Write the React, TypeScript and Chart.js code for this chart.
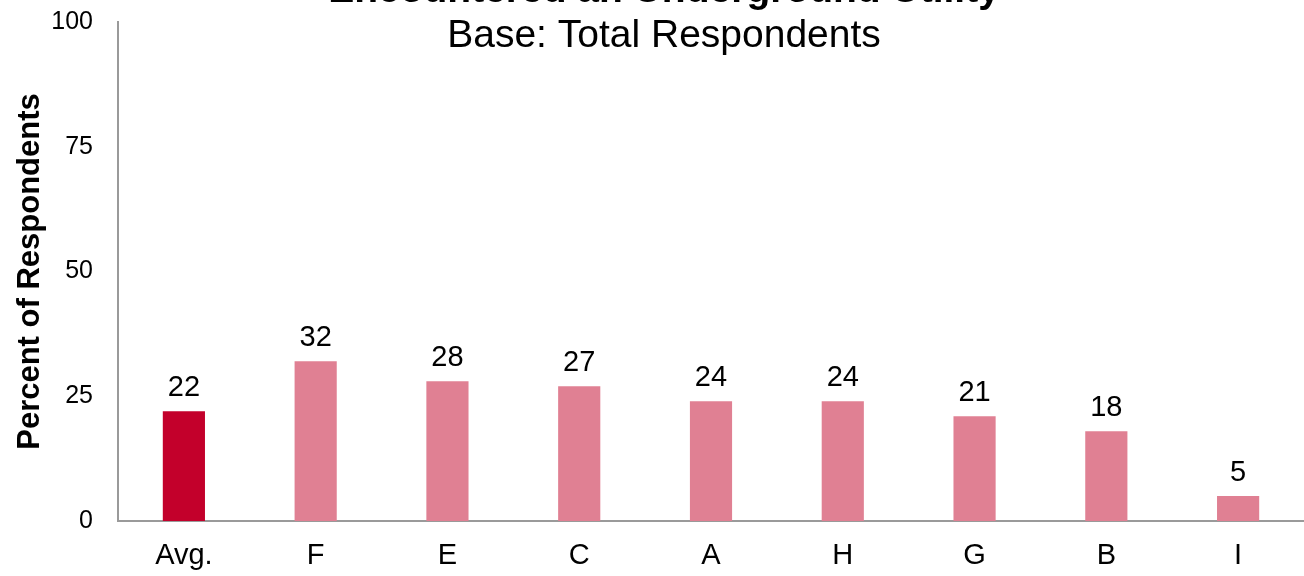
import React, { useEffect, useRef } from "react";
import { Chart, registerables } from "chart.js";

Chart.register(...registerables);

const categories = ["Avg.", "F", "E", "C", "A", "H", "G", "B", "I"];
const values = [22, 32, 28, 27, 24, 24, 21, 18, 5];
const barColors = ["#C3002B", "#E08093", "#E08093", "#E08093", "#E08093", "#E08093", "#E08093", "#E08093", "#E08093"];
const yTicks = [0, 25, 50, 75, 100];
const titleLines = ["Encountered an Underground Utility", "Base: Total Respondents"];
const yAxisTitle = "Percent of Respondents";

const FONT = "'Liberation Sans', Arial, sans-serif";

const overlayPlugin = {
  id: "overlay",
  afterDatasetsDraw(chart: any) {
    const ctx = chart.ctx;
    const area = chart.chartArea;
    ctx.save();
    const meta = chart.getDatasetMeta(0);
    ctx.fillStyle = "#000";
    ctx.font = `29px ${FONT}`;
    ctx.textAlign = "center";
    ctx.textBaseline = "alphabetic";
    meta.data.forEach((bar: any, i: number) => {
      ctx.fillText(String(values[i]), bar.x, bar.y - 15);
    });
    ctx.font = `bold 39px ${FONT}`;
    ctx.fillText(titleLines[0], 664, 2);
    ctx.font = `39px ${FONT}`;
    ctx.fillText(titleLines[1], 664, 47);
    ctx.translate(30, (area.top + area.bottom) / 2);
    ctx.rotate(-Math.PI / 2);
    ctx.font = `bold 31px ${FONT}`;
    ctx.textBaseline = "middle";
    ctx.fillText(yAxisTitle, 0, 0);
    ctx.restore();
  },
};

export default function App() {
  const ref = useRef<HTMLCanvasElement>(null);
  useEffect(() => {
    if (!ref.current) return;
    const chart = new Chart(ref.current, {
      type: "bar",
      data: {
        labels: categories,
        datasets: [
          {
            data: values,
            backgroundColor: barColors,
            barPercentage: 0.32,
            categoryPercentage: 1,
          },
        ],
      },
      options: {
        animation: false,
        responsive: false,
        layout: { padding: { top: 22, right: 0, left: 0, bottom: 0 } },
        plugins: { legend: { display: false }, tooltip: { enabled: false }, title: { display: false } },
        scales: {
          x: {
            grid: { display: false, drawTicks: false },
            border: { display: true, color: "#9a9a9a", width: 2 },
            ticks: { color: "#000", font: { family: FONT, size: 29 }, padding: 18 },
            afterFit: (s: any) => {
              s.height = 55;
              s.paddingLeft = 0;
              s.paddingRight = 0;
            },
          },
          y: {
            min: 0,
            max: 100,
            afterBuildTicks: (s: any) => {
              s.ticks = yTicks.map((v) => ({ value: v }));
            },
            grid: { display: false, drawTicks: false },
            border: { display: true, color: "#9a9a9a", width: 2 },
            ticks: { color: "#000", font: { family: FONT, size: 25 }, padding: 25 },
            afterFit: (s: any) => {
              s.width = 118;
              s.paddingTop = 0;
              s.paddingBottom = 0;
            },
          },
        },
      },
      plugins: [overlayPlugin],
    });
    return () => chart.destroy();
  }, []);
  return (
    <div style={{ position: "fixed", left: 0, top: 0, width: 1304, height: 576, background: "#fff" }}>
      <canvas ref={ref} width={1304} height={576} style={{ display: "block" }} />
    </div>
  );
}
